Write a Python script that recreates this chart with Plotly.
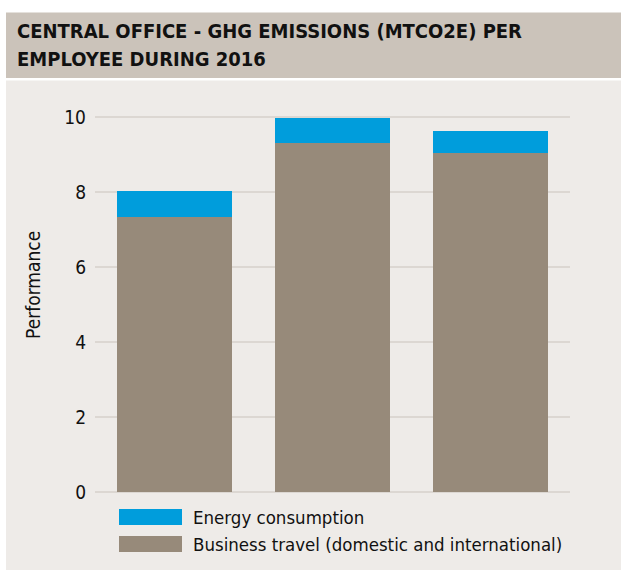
import plotly.graph_objects as go

categories = ["Group 1", "Group 2", "Group 3"]
business_travel = [7.33, 9.31, 9.04]
energy_consumption = [0.70, 0.66, 0.59]
series_names = ["Business travel (domestic and international)", "Energy consumption"]
title_lines = ["CENTRAL OFFICE - GHG EMISSIONS (MTCO2E) PER", "EMPLOYEE DURING 2016"]
y_title = "Performance"

W, H = 621, 570
L, T = 95, 102
R = W - 570
B = H - 492
PW, PH = W - L - R, H - T - B

def px(x):
    return (x - L) / PW

def py(y):
    return (H - B - y) / PH

FONT = "Liberation Sans Narrow, DejaVu Sans Condensed, Arial Narrow, sans-serif"
BROWN = "#978a7a"
BLUE = "#009ddc"
PANEL = "#eeebe8"

fig = go.Figure()
fig.add_trace(go.Bar(x=categories, y=business_travel, name=series_names[0],
                     marker=dict(color=BROWN, line=dict(width=0))))
fig.add_trace(go.Bar(x=categories, y=energy_consumption, name=series_names[1],
                     marker=dict(color=BLUE, line=dict(width=0))))

shapes = [
    dict(type="rect", xref="paper", yref="paper", x0=px(6), x1=px(640), y0=py(78), y1=py(12.5),
         fillcolor="#cbc3ba", line=dict(width=0), layer="below"),
    dict(type="rect", xref="paper", yref="paper", x0=px(6), x1=px(640), y0=py(580), y1=py(80.5),
         fillcolor=PANEL, line=dict(width=0), layer="below"),
    dict(type="rect", xref="paper", yref="paper", x0=px(119), x1=px(182), y0=py(525), y1=py(509),
         fillcolor=BLUE, line=dict(width=0)),
    dict(type="rect", xref="paper", yref="paper", x0=px(119), x1=px(182), y0=py(552), y1=py(536),
         fillcolor=BROWN, line=dict(width=0)),
]

annotations = [
    dict(text="<b>" + title_lines[0] + "</b>", xref="paper", yref="paper", x=px(15), y=py(31),
         xanchor="left", yanchor="middle", showarrow=False, font=dict(family=FONT, size=20, color="#111")),
    dict(text="<b>" + title_lines[1] + "</b>", xref="paper", yref="paper", x=px(15), y=py(59),
         xanchor="left", yanchor="middle", showarrow=False, font=dict(family=FONT, size=20, color="#111")),
    dict(text=y_title, xref="paper", yref="paper", x=px(33), y=py(285), textangle=-90,
         xanchor="center", yanchor="middle", showarrow=False, font=dict(family=FONT, size=19, color="#111")),
    dict(text=series_names[1], xref="paper", yref="paper", x=px(191), y=py(517.5),
         xanchor="left", yanchor="middle", showarrow=False, font=dict(family=FONT, size=18.5, color="#111")),
    dict(text=series_names[0], xref="paper", yref="paper", x=px(191), y=py(544.5),
         xanchor="left", yanchor="middle", showarrow=False, font=dict(family=FONT, size=18.5, color="#111")),
]

fig.update_layout(
    width=W, height=H,
    margin=dict(l=L, r=R, t=T, b=B, autoexpand=False),
    barmode="stack", bargap=0.273,
    paper_bgcolor="white", plot_bgcolor="rgba(0,0,0,0)",
    showlegend=False, hovermode=False,
    shapes=shapes, annotations=annotations,
    font=dict(family=FONT, size=19, color="#111"),
    xaxis=dict(showticklabels=False, showgrid=False, zeroline=False, showline=False, ticks=""),
    yaxis=dict(range=[0, 10.4], tickvals=[0, 2, 4, 6, 8, 10], showgrid=True, gridcolor="#dcd7d2",
               gridwidth=2, zeroline=True, zerolinecolor="#dcd7d2", zerolinewidth=2,
               showline=False, ticks="", ticklabelstandoff=8,
               tickfont=dict(family=FONT, size=19, color="#111")),
)

fig.write_html("out.html", config={"displayModeBar": False},
               post_script="document.body.style.margin='0';document.documentElement.style.overflow='hidden';document.body.style.overflow='hidden';")
